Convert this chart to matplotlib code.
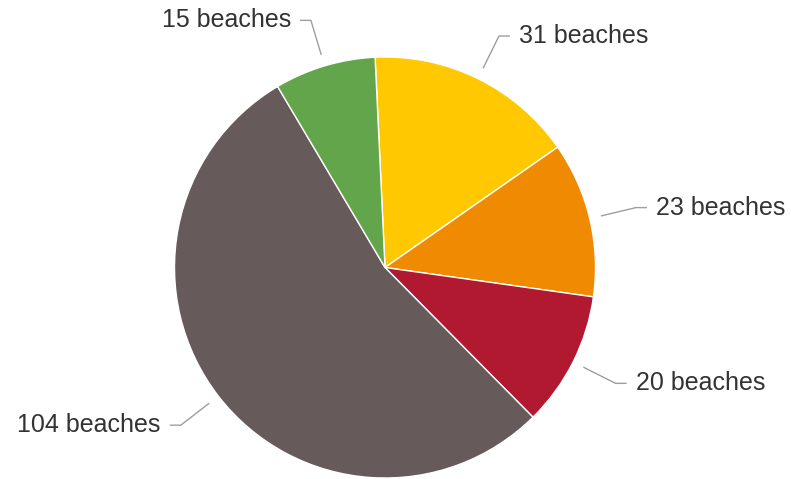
import numpy as np
import matplotlib.pyplot as plt

counts = [31, 23, 20, 104, 15]
labels = [f"{n} beaches" for n in counts]
colors = ['#ffc800', '#f08a00', '#b0192f', '#665a5a', '#63a54a']

W, H = 791, 479
cx, cy, r = 385, H - 267.5, 210.5

fig = plt.figure(figsize=(W / 100, H / 100), dpi=100)
ax = fig.add_axes([0, 0, 1, 1])
wedges, _ = ax.pie(counts, colors=colors, center=(cx, cy), radius=r,
                   startangle=92.7, counterclock=False,
                   wedgeprops=dict(edgecolor='white', linewidth=1))
ax.set_xlim(0, W)
ax.set_ylim(0, H)
ax.set_aspect('equal')
ax.axis('off')

# leader lines + labels, google-charts style
for w, lab in zip(wedges, labels):
    a = np.deg2rad((w.theta1 + w.theta2) / 2)
    c, s = np.cos(a), np.sin(a)
    x1, y1 = cx + 222 * c, cy + 222 * s
    x2, y2 = cx + 258 * c, cy + 258 * s
    d = 1 if c >= 0 else -1
    x3 = x2 + 11 * d
    ax.plot([x1, x2, x3], [y1, y2, y2], color='#9e9e9e', lw=1,
            solid_capstyle='butt')
    ax.text(x3 + 9 * d, y2, lab, ha='left' if d > 0 else 'right',
            va='center', fontsize=18, color='#333333',
            family=['Liberation Sans', 'DejaVu Sans'])

fig.savefig('out.png', dpi=100, facecolor='white')
